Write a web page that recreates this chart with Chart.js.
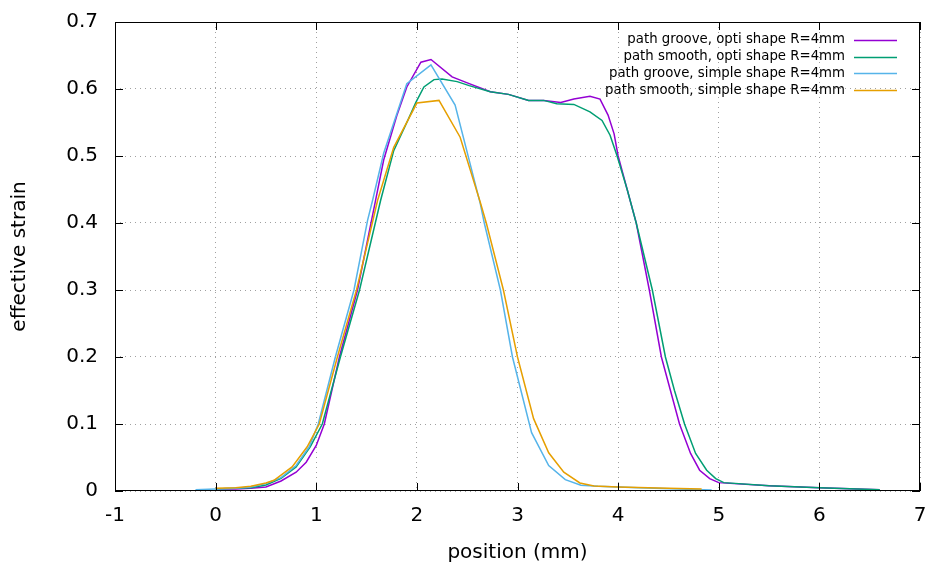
<!DOCTYPE html>
<html>
<head>
<meta charset="utf-8">
<script src="https://cdn.jsdelivr.net/npm/chart.js@4/dist/chart.umd.min.js"></script>
<style>
  html, body { margin: 0; padding: 0; background: #fff; }
</style>
</head>
<body>
<canvas id="strainChart" width="927" height="565"></canvas>
<script>
// curves
const labels = [
    'path groove, opti shape R=4mm',
    'path smooth, opti shape R=4mm',
    'path groove, simple shape R=4mm',
    'path smooth, simple shape R=4mm'
];
const colors = ['#9400d3', '#009e73', '#56b4e9', '#e69f00'];

const grooveOptiX = [0, 0.2, 0.35, 0.5, 0.65, 0.8, 0.9, 1.0, 1.08, 1.23, 1.41, 1.59, 1.67, 1.8, 1.9, 2.04, 2.14, 2.35, 2.52, 2.73, 2.91, 3.11, 3.26, 3.43, 3.56, 3.72, 3.82, 3.9, 3.96, 4.0, 4.09, 4.18, 4.31, 4.43, 4.52, 4.61, 4.72, 4.81, 4.91, 5.0, 5.5, 6.0, 6.6];
const grooveOptiY = [0.003, 0.003, 0.004, 0.006, 0.015, 0.028, 0.043, 0.068, 0.1, 0.2, 0.3, 0.434, 0.494, 0.56, 0.603, 0.64, 0.644, 0.618, 0.608, 0.596, 0.592, 0.583, 0.583, 0.58, 0.585, 0.589, 0.585, 0.561, 0.533, 0.5, 0.45, 0.4, 0.3, 0.2, 0.15, 0.1, 0.056, 0.031, 0.0185, 0.0125, 0.008, 0.005, 0.002];

const smoothOptiX = [0, 0.2, 0.35, 0.5, 0.65, 0.8, 0.94, 1.06, 1.24, 1.43, 1.64, 1.77, 1.9, 1.99, 2.07, 2.17, 2.25, 2.4, 2.52, 2.73, 2.91, 3.11, 3.26, 3.39, 3.56, 3.72, 3.84, 3.92, 3.99, 4.09, 4.18, 4.34, 4.47, 4.56, 4.66, 4.77, 4.88, 4.97, 5.05, 5.5, 6.0, 6.6];
const smoothOptiY = [0.003, 0.004, 0.005, 0.009, 0.019, 0.036, 0.066, 0.1, 0.2, 0.3, 0.434, 0.508, 0.55, 0.58, 0.603, 0.614, 0.615, 0.611, 0.605, 0.596, 0.592, 0.583, 0.583, 0.578, 0.577, 0.566, 0.553, 0.531, 0.5, 0.45, 0.4, 0.3, 0.2, 0.15, 0.1, 0.056, 0.031, 0.0185, 0.0125, 0.008, 0.005, 0.002];

const grooveSimpleX = [-0.2, 0, 0.2, 0.35, 0.5, 0.65, 0.8, 0.93, 1.02, 1.19, 1.375, 1.51, 1.56, 1.67, 1.9, 2.14, 2.38, 2.63, 2.67, 2.83, 2.95, 3.14, 3.31, 3.475, 3.63, 3.8, 4.2, 4.6, 4.93];
const grooveSimpleY = [0.002, 0.003, 0.004, 0.006, 0.011, 0.02, 0.038, 0.066, 0.1, 0.2, 0.3, 0.404, 0.434, 0.504, 0.608, 0.636, 0.576, 0.429, 0.4, 0.3, 0.2, 0.087, 0.038, 0.017, 0.0085, 0.007, 0.005, 0.003, 0.0015];

const smoothSimpleX = [0, 0.2, 0.35, 0.5, 0.58, 0.76, 0.91, 1.03, 1.21, 1.4, 1.61, 1.77, 2.0, 2.22, 2.43, 2.63, 2.69, 2.86, 3.0, 3.16, 3.31, 3.46, 3.62, 3.76, 4.0, 4.5, 4.83];
const smoothSimpleY = [0.004, 0.005, 0.007, 0.012, 0.016, 0.036, 0.066, 0.1, 0.2, 0.3, 0.434, 0.513, 0.579, 0.583, 0.528, 0.431, 0.4, 0.3, 0.2, 0.108, 0.057, 0.028, 0.012, 0.0075, 0.006, 0.004, 0.003];

const xTicks = [-1, 0, 1, 2, 3, 4, 5, 6, 7];
const yTicks = [0, 0.1, 0.2, 0.3, 0.4, 0.5, 0.6, 0.7];

const seriesX = [grooveOptiX, smoothOptiX, grooveSimpleX, smoothSimpleX];
const seriesY = [grooveOptiY, smoothOptiY, grooveSimpleY, smoothSimpleY];

const FONT = '"DejaVu Sans", "Liberation Sans", sans-serif';

const datasets = labels.map((label, i) => ({
    label: label,
    data: seriesX[i].map((x, j) => ({ x: x, y: seriesY[i][j] })),
    borderColor: colors[i],
    backgroundColor: colors[i],
    borderWidth: 1.5,
    pointRadius: 0,
    showLine: true,
    tension: 0,
    order: labels.length - i   // later series on top, like gnuplot
}));

// frame with inward ticks on all four sides + gnuplot-like key
const framePlugin = {
    id: 'frame',
    afterDraw(chart) {
        const ctx = chart.ctx;
        const a = chart.chartArea;
        const xs = chart.scales.x, ys = chart.scales.y;
        ctx.save();
        ctx.strokeStyle = '#000';
        ctx.lineWidth = 1;
        ctx.setLineDash([]);
        ctx.strokeRect(a.left + 0.5, a.top + 0.5, a.right - a.left - 1, a.bottom - a.top - 1);
        ctx.beginPath();
        xTicks.forEach(v => {
            const px = Math.round(xs.getPixelForValue(v)) + 0.5;
            ctx.moveTo(px, a.bottom); ctx.lineTo(px, a.bottom - 8);
            ctx.moveTo(px, a.top); ctx.lineTo(px, a.top + 8);
        });
        yTicks.forEach(v => {
            const py = Math.round(ys.getPixelForValue(v)) + 0.5;
            ctx.moveTo(a.left, py); ctx.lineTo(a.left + 8, py);
            ctx.moveTo(a.right, py); ctx.lineTo(a.right - 8, py);
        });
        ctx.stroke();

        // key
        ctx.font = '13.3px ' + FONT;
        ctx.textAlign = 'right';
        ctx.textBaseline = 'middle';
        labels.forEach((label, i) => {
            const y = 40 + i * 16.7;
            ctx.fillStyle = '#000';
            ctx.fillText(label, 845, y);
            ctx.strokeStyle = colors[i];
            ctx.lineWidth = 1.5;
            ctx.beginPath();
            ctx.moveTo(854, Math.round(y) + 0.5);
            ctx.lineTo(897, Math.round(y) + 0.5);
            ctx.stroke();
        });
        ctx.restore();
    }
};

const ctx = document.getElementById('strainChart').getContext('2d');
new Chart(ctx, {
    type: 'scatter',
    data: { datasets: datasets },
    options: {
        responsive: false,
        animation: false,
        layout: { padding: { top: 22, right: 7, left: 0, bottom: 0 } },
        plugins: {
            legend: { display: false },
            tooltip: { enabled: false }
        },
        scales: {
            x: {
                type: 'linear',
                min: -1,
                max: 7,
                afterFit: s => { s.height = 74; s.paddingLeft = 0; s.paddingRight = 0; },
                afterBuildTicks: s => { s.ticks = xTicks.map(v => ({ value: v })); },
                ticks: {
                    color: '#000',
                    font: { family: FONT, size: 20 },
                    padding: 13,
                    maxRotation: 0,
                    callback: v => String(v)
                },
                grid: {
                    color: '#a0a0a0',
                    lineWidth: 1,
                    drawTicks: false
                },
                border: { display: false, dash: [1, 4] },
                title: {
                    display: true,
                    text: 'position (mm)',
                    color: '#000',
                    font: { family: FONT, size: 20 },
                    padding: { top: 0, bottom: 0 }
                }
            },
            y: {
                type: 'linear',
                min: 0,
                max: 0.7,
                afterFit: s => { s.width = 115; s.paddingTop = 0; s.paddingBottom = 0; },
                afterBuildTicks: s => { s.ticks = yTicks.map(v => ({ value: v })); },
                ticks: {
                    color: '#000',
                    font: { family: FONT, size: 20 },
                    padding: 17,
                    callback: v => String(+v.toFixed(1))
                },
                grid: {
                    color: '#a0a0a0',
                    lineWidth: 1,
                    drawTicks: false
                },
                border: { display: false, dash: [1, 4] },
                title: {
                    display: true,
                    text: 'effective strain',
                    color: '#000',
                    font: { family: FONT, size: 20 },
                    padding: { top: 8, bottom: 0 }
                }
            }
        }
    },
    plugins: [framePlugin]
});
</script>
</body>
</html>
